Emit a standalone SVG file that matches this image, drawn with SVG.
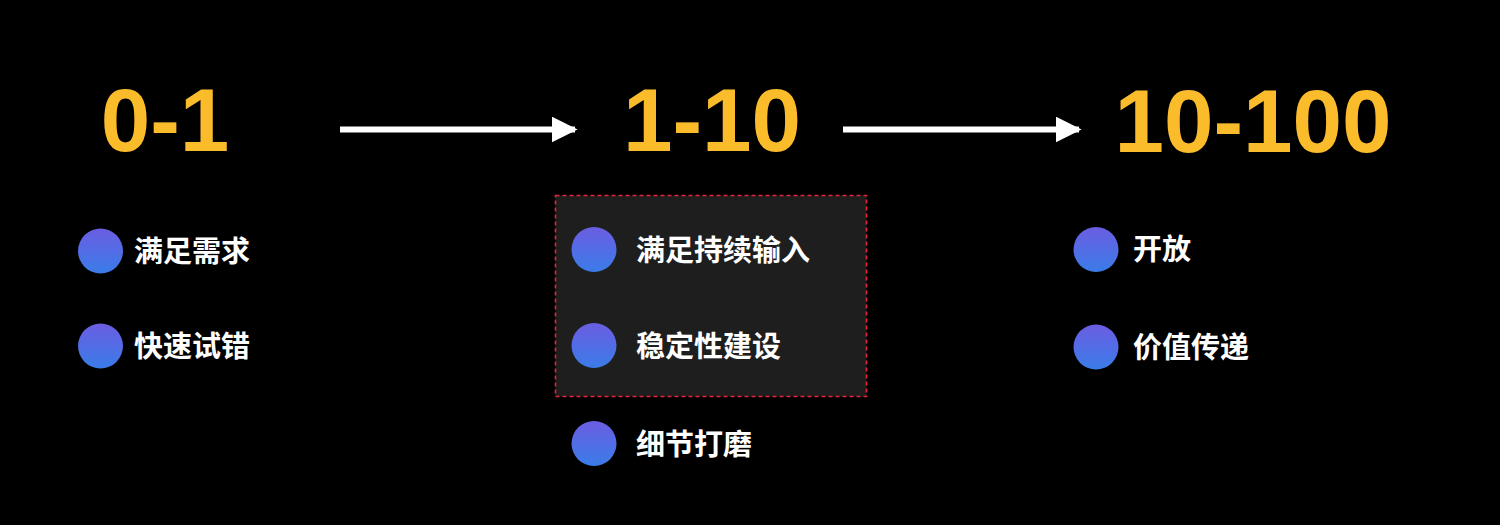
<svg xmlns="http://www.w3.org/2000/svg" width="1500" height="525" viewBox="0 0 1500 525">
<defs>
<linearGradient id="dot" x1="0" y1="0" x2="0" y2="1">
<stop offset="0" stop-color="#6b5de2"/>
<stop offset="1" stop-color="#3a7ce8"/>
</linearGradient>
<marker id="arr" viewBox="0 0 10 10" refX="9" refY="5" markerWidth="26" markerHeight="26" markerUnits="userSpaceOnUse" orient="auto">
<path d="M0,0 L10,5 L0,10 Z" fill="#ffffff"/>
</marker>
<style>
.title{font-family:"Liberation Sans",Arial,sans-serif;font-weight:bold;font-size:89px;fill:#fbbc2c;text-anchor:middle}
.lbl{font-family:"Noto Sans CJK SC","Noto Sans",sans-serif;font-weight:bold;font-size:29px;fill:#ffffff}
.dot{fill:url(#dot)}
.conn{stroke:#ffffff;stroke-width:6;fill:none}
</style>
</defs>
<rect x="0" y="0" width="1500" height="525" fill="#000000"/>
<g id="stage-0-1">
<text class="title" x="165" y="151">0-1</text>
<g id="item-1"><circle class="dot" cx="100.5" cy="251" r="22.5"/><text class="lbl" x="134" y="262">满足需求</text></g>
<g id="item-2"><circle class="dot" cx="100.5" cy="346" r="22.5"/><text class="lbl" x="134" y="357">快速试错</text></g>
</g>
<g id="stage-1-10">
<rect x="555.5" y="195.5" width="311" height="201" fill="#1e1e1e" stroke="#e4243f" stroke-width="1.6" stroke-dasharray="4,3"/>
<text class="title" x="712" y="151">1-10</text>
<g id="item-3"><circle class="dot" cx="594" cy="249.5" r="22.5"/><text class="lbl" x="636" y="261">满足持续输入</text></g>
<g id="item-4"><circle class="dot" cx="594" cy="345.5" r="22.5"/><text class="lbl" x="636" y="357">稳定性建设</text></g>
<g id="item-5"><circle class="dot" cx="594" cy="443.5" r="22.5"/><text class="lbl" x="636" y="455">细节打磨</text></g>
</g>
<g id="stage-10-100">
<text class="title" x="1253" y="152">10-100</text>
<g id="item-6"><circle class="dot" cx="1096" cy="249.5" r="22.5"/><text class="lbl" x="1133" y="260">开放</text></g>
<g id="item-7"><circle class="dot" cx="1096" cy="347" r="22.5"/><text class="lbl" x="1133" y="358">价值传递</text></g>
</g>
<g id="connectors">
<line class="conn" x1="340" y1="129.5" x2="575" y2="129.5" marker-end="url(#arr)"/>
<line class="conn" x1="843" y1="129.5" x2="1079" y2="129.5" marker-end="url(#arr)"/>
</g>
</svg>
